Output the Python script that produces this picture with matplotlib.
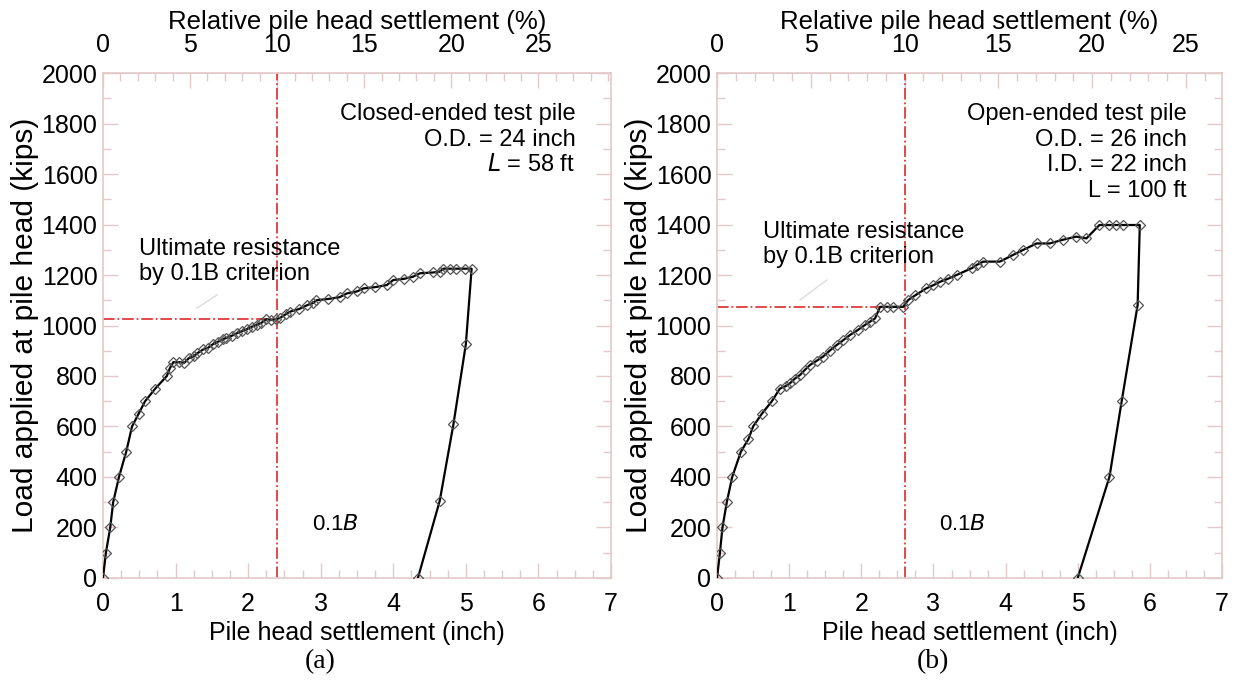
import matplotlib
matplotlib.use("Agg")
import matplotlib.pyplot as plt
from matplotlib.ticker import MultipleLocator

plt.rcParams['font.family'] = ['Liberation Sans', 'DejaVu Sans']

# panel (a): closed-ended pile, settlement (inch) vs load (kips)
load_a_x = [0, 0.04, 0.10, 0.14, 0.22, 0.32, 0.40, 0.49, 0.58, 0.72, 0.88, 0.92,
            0.97, 1.05, 1.12, 1.18, 1.25, 1.30, 1.38, 1.45, 1.52, 1.58, 1.65, 1.70,
            1.78, 1.85, 1.91, 1.98, 2.05, 2.12, 2.18, 2.25, 2.32, 2.39, 2.44, 2.52,
            2.58, 2.70, 2.81, 2.90, 2.94, 3.10, 3.26, 3.36, 3.50, 3.59, 3.75, 3.91,
            4.00, 4.15, 4.27, 4.37, 4.55, 4.64, 4.69, 4.78, 4.87, 4.99, 5.08]
load_a_y = [0, 100, 200, 300, 400, 500, 600, 650, 700, 750, 800, 830,
            855, 855, 852, 870, 878, 890, 905, 912, 927, 935, 945, 951,
            960, 970, 977, 985, 995, 1003, 1010, 1025, 1022, 1025, 1030, 1045,
            1055, 1065, 1080, 1090, 1100, 1105, 1112, 1127, 1135, 1147, 1152, 1160,
            1180, 1185, 1193, 1207, 1210, 1213, 1225, 1225, 1225, 1225, 1225]
unload_a_x = [5.00, 4.83, 4.64, 4.34]
unload_a_y = [925, 610, 305, 0]

# panel (b): open-ended pile
load_b_x = [0, 0.04, 0.075, 0.135, 0.21, 0.33, 0.435, 0.50, 0.62, 0.76, 0.87, 0.95,
            1.01, 1.08, 1.15, 1.22, 1.29, 1.38, 1.47, 1.56, 1.66, 1.75, 1.84, 1.95,
            2.05, 2.12, 2.19, 2.26, 2.35, 2.44, 2.58, 2.65, 2.75, 2.90, 3.00, 3.09,
            3.20, 3.32, 3.53, 3.60, 3.69, 3.92, 4.10, 4.24, 4.43, 4.61, 4.80, 4.98,
            5.12, 5.30, 5.44, 5.53, 5.63, 5.86]
load_b_y = [0, 100, 200, 300, 400, 500, 550, 600, 650, 700, 750, 760,
            771, 790, 804, 825, 844, 860, 877, 900, 923, 942, 962, 982,
            1002, 1015, 1028, 1074, 1074, 1074, 1074, 1101, 1120, 1147, 1160, 1173,
            1185, 1200, 1227, 1240, 1253, 1253, 1279, 1299, 1325, 1325, 1340, 1352,
            1345, 1398, 1398, 1398, 1398, 1398]
unload_b_x = [5.83, 5.61, 5.44, 5.00]
unload_b_y = [1081, 702, 401, 0]

diam_a = 24.0   # inch
diam_b = 26.0
ult_a = 1025    # kips at 0.1B
ult_b = 1075

spine_col = '#e3c9c9'
red = '#e03a3a'

fig = plt.figure(figsize=(12.38, 6.87), dpi=100)
ax_a = fig.add_axes([0.0832, 0.1587, 0.4103, 0.735])
ax_b = fig.add_axes([0.5792, 0.1587, 0.4079, 0.735])

panels = [
    (ax_a, load_a_x + unload_a_x, load_a_y + unload_a_y, diam_a, ult_a,
     "Closed-ended test pile\nO.D. = 24 inch\n$\\mathit{L}$ = 58 ft", "(a)",
     (0.071, 0.627), (1.57, 1121), (1.29, 1068)),
    (ax_b, load_b_x + unload_b_x, load_b_y + unload_b_y, diam_b, ult_b,
     "Open-ended test pile\nO.D. = 26 inch\nI.D. = 22 inch\nL = 100 ft", "(b)",
     (0.091, 0.66), (1.52, 1180), (1.15, 1101)),
]

for ax, xs, ys, d, ult, info, tag, ult_pos, lead0, lead1 in panels:
    crit = 0.1 * d
    ax.plot(xs, ys, color='black', lw=1.6, marker='D', ms=5.5, mfc='none',
            mec='#555555', mew=0.9, zorder=3)
    ax.plot([crit, crit], [0, 2000], color=red, lw=1.3, ls='-.', zorder=2)
    ax.plot([0, crit], [ult, ult], color=red, lw=1.3, ls='-.', zorder=2)
    ax.plot([lead0[0], lead1[0]], [lead0[1], lead1[1]], color='#dcdcdc', lw=1.0, zorder=1)

    ax.set_xlim(0, 7)
    ax.set_ylim(0, 2000)
    ax.xaxis.set_major_locator(MultipleLocator(1))
    ax.xaxis.set_minor_locator(MultipleLocator(0.25))
    ax.yaxis.set_major_locator(MultipleLocator(200))
    ax.yaxis.set_minor_locator(MultipleLocator(100))
    ax.tick_params(which='both', direction='in', color=spine_col, right=True,
                   labelsize=18)
    ax.tick_params(axis='x', pad=10)
    ax.tick_params(axis='y', pad=4)
    ax.tick_params(which='major', length=11, width=1)
    ax.tick_params(which='minor', length=6, width=1)
    for s in ax.spines.values():
        s.set_color(spine_col)
        s.set_linewidth(1.2)

    ax.set_xlabel("Pile head settlement (inch)", fontsize=18, labelpad=4)
    ax.set_ylabel("Load applied at pile head (kips)", fontsize=21.5, labelpad=2)

    top = ax.secondary_xaxis('top', functions=(lambda x, d=d: x / d * 100,
                                                lambda p, d=d: p * d / 100))
    top.set_xticks([0, 5, 10, 15, 20, 25])
    top.xaxis.set_minor_locator(MultipleLocator(1))
    top.tick_params(which='both', direction='in', color=spine_col, labelsize=18, pad=11.5)
    top.tick_params(which='major', length=11, width=1)
    top.tick_params(which='minor', length=6, width=1)
    top.spines['top'].set_color(spine_col)
    top.set_xlabel("Relative pile head settlement (%)", fontsize=18.5, labelpad=3)

    ax.text(0.93, 0.94, info, transform=ax.transAxes, ha='right', va='top',
            fontsize=17, linespacing=1.2)
    ax.text(ult_pos[0], ult_pos[1], "Ultimate resistance\nby 0.1B criterion",
            transform=ax.transAxes, ha='left', va='center', fontsize=17, linespacing=1.2)
    ax.text(crit + 0.8, 210, "0.1$\\mathit{B}$", ha='center', va='center', fontsize=16)
    ax.text(0.427, -0.166, tag, transform=ax.transAxes, ha='center', va='center',
            fontsize=20, family=['Liberation Serif', 'DejaVu Serif'])

fig.savefig("out.png", dpi=100)
